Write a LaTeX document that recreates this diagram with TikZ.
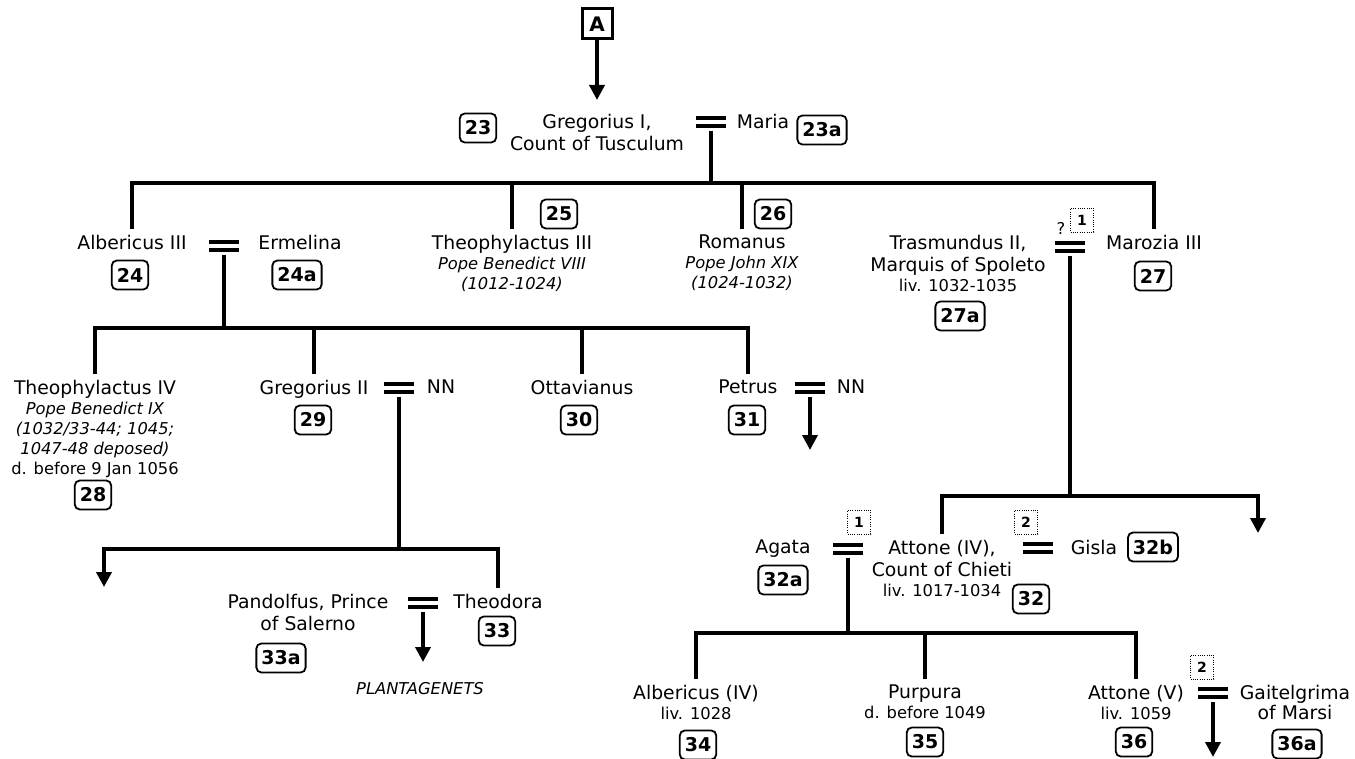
\documentclass[tikz,border=0pt]{standalone}
\usepackage{fontspec}
\setmainfont{DejaVu Sans}
\usetikzlibrary{arrows.meta}

\newcommand\persfont{\fontsize{18.8}{22}\selectfont}
\newcommand\notefont{\fontsize{16.3}{20}\selectfont}

\begin{document}
\begin{tikzpicture}[x=1pt, y=-1pt,
  every node/.style={font=\persfont},
  person/.style={anchor=north, align=center, inner xsep=0pt, inner ysep=6pt},
  badge/.style={draw, line width=1.8pt, rounded corners=5pt, inner xsep=5pt, inner ysep=0pt,
                minimum height=29pt, font=\fontsize{19}{21}\selectfont\bfseries},
  numbox/.style={draw, line width=0.9pt, dash pattern=on 0.9pt off 1.4pt, inner sep=0pt,
                 minimum width=23pt, minimum height=24pt, font=\fontsize{14}{16}\selectfont\bfseries},
  abox/.style={draw, line width=3pt, minimum size=30pt, inner sep=0pt,
               font=\fontsize{20}{22}\selectfont\bfseries},
  marr/.style={fill=white, minimum width=30pt, minimum height=11.6pt, inner sep=0pt,
               outer xsep=0pt, outer ysep=3pt,
               path picture={
                 \fill[black] ([yshift=-4pt]path picture bounding box.north west) rectangle (path picture bounding box.north east);
                 \fill[black] (path picture bounding box.south west) rectangle ([yshift=4pt]path picture bounding box.south east);}},
  tree/.style={line width=3.6pt},
  arr/.style={tree, -{Triangle[width=15pt,length=15pt]}},
]
\path[use as bounding box, fill=white] (0,0) rectangle (1355,759);

% ---- Gregorius I and Maria --------------------------------------------
\node[abox] (A) at (597,24) {A};
\node[person] (greg) at (597,108) {Gregorius I,\\Count of Tusculum};
\node[badge] (b23) at (478,128) {23};
\node[marr] (m23) at (711,122) {};
\node[person] (maria) at (763,108) {Maria};
\node[badge] (b23a) at (822,130) {23a};

% ---- their children ---------------------------------------------------
\node[person] (alb3) at (132,229) {Albericus III};
\node[badge] (b24) at (130,275) {24};
\node[marr] (m24) at (224,246) {};
\node[person] (erm) at (300,229) {Ermelina};
\node[badge] (b24a) at (297,275) {24a};

\node[person] (th3) at (512,229) {Theophylactus III\\[-2pt]{\notefont\itshape Pope Benedict VIII}\\[-2pt]{\notefont\itshape (1012-1024)}};
\node[badge] (b25) at (559,214) {25};
\node[person] (rom) at (742,229) {Romanus\\[-2pt]{\notefont\itshape Pope John XIX}\\[-2pt]{\notefont\itshape (1024-1032)}};
\node[badge] (b26) at (773,214) {26};

\node[person] (tras) at (958,229) {Trasmundus II,\\Marquis of Spoleto\\[-2pt]{\notefont liv. 1032-1035}};
\node[badge] (b27a) at (960,316) {27a};
\node[font=\notefont] (q27) at (1061,228) {?};
\node[numbox] (n27) at (1082,220) {1};
\node[marr] (m27) at (1070,247) {};
\node[person] (maro) at (1154,229) {Marozia III};
\node[badge] (b27) at (1153,276) {27};

% ---- children of Albericus III ----------------------------------------
\node[person] (th4) at (95,374) {Theophylactus IV\\[-2pt]{\notefont\itshape Pope Benedict IX}\\[-2pt]{\notefont\itshape (1032/33-44; 1045;}\\[-2pt]{\notefont\itshape 1047-48 deposed)}\\[-2pt]{\notefont d. before 9 Jan 1056}};
\node[badge] (b28) at (93,495) {28};
\node[person] (gre2) at (314,374) {Gregorius II};
\node[badge] (b29) at (313,420) {29};
\node[marr] (m29) at (399,388) {};
\node[person] (nn29) at (441,374) {NN};
\node[person] (ott) at (582,374) {Ottavianus};
\node[badge] (b30) at (579,420) {30};
\node[person] (pet) at (748,374) {Petrus};
\node[badge] (b31) at (747,420) {31};
\node[marr] (m31) at (810,388) {};
\node[person] (nn31) at (851,374) {NN};

% ---- children of Gregorius II -----------------------------------------
\node[person] (pand) at (308,588) {Pandolfus, Prince\\of Salerno};
\node[badge] (b33a) at (281,658) {33a};
\node[marr] (m33) at (423,603) {};
\node[person] (theod) at (498,588) {Theodora};
\node[badge] (b33) at (497,631) {33};
\node[person] (plant) at (420,676) {\notefont\itshape PLANTAGENETS};

% ---- children of Trasmundus II ----------------------------------------
\node[person] (agata) at (783,534) {Agata};
\node[badge] (b32a) at (783,580) {32a};
\node[numbox] (n32a) at (859,522) {1};
\node[marr] (m32a) at (848,549) {};
\node[person] (att4) at (942,534) {Attone (IV),\\Count of Chieti\\[-2pt]{\notefont liv. 1017-1034}};
\node[badge] (b32) at (1031,599) {32};
\node[numbox] (n32b) at (1026,522) {2};
\node[marr] (m32b) at (1038,548) {};
\node[person] (gisla) at (1094,534) {Gisla};
\node[badge] (b32b) at (1153,547) {32b};

% ---- children of Attone (IV) ------------------------------------------
\node[person] (alb4) at (696,679) {Albericus (IV)\\[-2pt]{\notefont liv. 1028}};
\node[badge] (b34) at (698,745) {34};
\node[person] (purp) at (925,679) {Purpura\\[-2pt]{\notefont d. before 1049}};
\node[badge] (b35) at (925,742) {35};
\node[person] (att5) at (1136,679) {Attone (V)\\[-2pt]{\notefont liv. 1059}};
\node[badge] (b36) at (1134,742) {36};
\node[numbox] (n36) at (1202,667) {2};
\node[marr] (m36) at (1213,693) {};
\node[person] (gait) at (1295,679) {Gaitelgrima\\[-2pt]of Marsi};
\node[badge] (b36a) at (1297,744) {36a};

% ---- lines of descent -------------------------------------------------
\coordinate (g1) at (711,183);
\coordinate (g2) at (224,328);
\coordinate (g3) at (399,549);
\coordinate (g3l) at (104,549);
\coordinate (g3e) at (104,587);
\coordinate (g4) at (1070,496);
\coordinate (g4r) at (1258,496);
\coordinate (g4e) at (1258,533);
\coordinate (g5) at (848,633);
\coordinate (e31) at (810,450);
\coordinate (e33) at (423,662);
\coordinate (e36) at (1213,757);

\draw[arr, shorten >=8pt] (A) -- (greg);

\draw[tree] (m23) -- (g1);
\draw[tree] (alb3.north) |- (g1) -| (maro.north);
\draw[tree] (th3.north) -- (th3.north |- g1);
\draw[tree] (rom.north) -- (rom.north |- g1);

\draw[tree] (m24) -- (g2);
\draw[tree] (th4.north) |- (g2) -| (pet.north);
\draw[tree] (gre2.north) -- (gre2.north |- g2);
\draw[tree] (ott.north) -- (ott.north |- g2);
\draw[arr] (m31) -- (e31);

\draw[tree] (m29) -- (g3);
\draw[arr] (theod.north) |- (g3l) -- (g3e);
\draw[arr] (m33) -- (e33);

\draw[tree] (m27) -- (g4);
\draw[arr] (att4.north) |- (g4r) -- (g4e);

\draw[tree] (m32a) -- (g5);
\draw[tree] (alb4.north) |- (g5) -| (att5.north);
\draw[tree] (purp.north) -- (purp.north |- g5);
\draw[arr] (m36) -- (e36);

\end{tikzpicture}
\end{document}
